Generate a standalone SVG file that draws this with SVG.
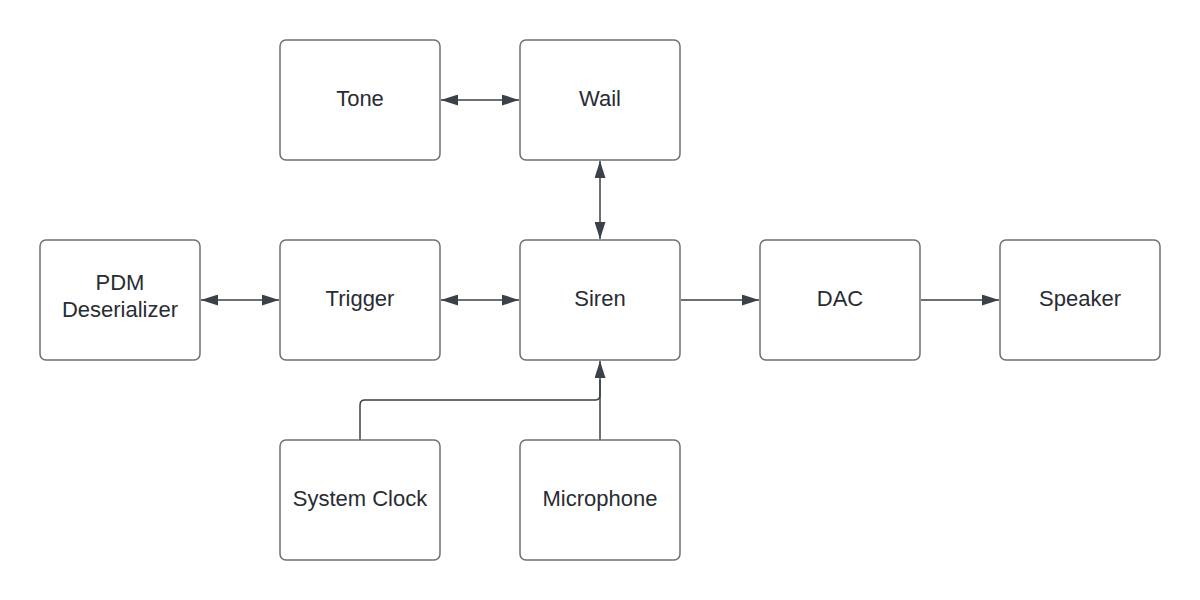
<svg xmlns="http://www.w3.org/2000/svg" width="1200" height="600" viewBox="0 0 1200 600">
<defs>
<style>
.box{fill:#ffffff;stroke:#6b6f75;stroke-width:1.5}
.lbl{font-family:"Liberation Sans",Arial,sans-serif;font-size:22px;fill:#282c33;text-anchor:middle}
.con{fill:none;stroke:#3a414a;stroke-width:1.5}
</style>
<marker id="ah" viewBox="0 0 17 11" refX="17" refY="5.5" markerWidth="17" markerHeight="11" markerUnits="userSpaceOnUse" orient="auto-start-reverse">
<path d="M0,0 L17,5.5 L0,11 Z" fill="#3a414a"/>
</marker>
</defs>
<rect width="1200" height="600" fill="#ffffff"/>
<g id="connectors">
<path class="con" d="M441,100 H519" marker-start="url(#ah)" marker-end="url(#ah)"/>
<path class="con" d="M600,161 V239" marker-start="url(#ah)" marker-end="url(#ah)"/>
<path class="con" d="M201,300 H279" marker-start="url(#ah)" marker-end="url(#ah)"/>
<path class="con" d="M441,300 H519" marker-start="url(#ah)" marker-end="url(#ah)"/>
<path class="con" d="M681,300 H759" marker-end="url(#ah)"/>
<path class="con" d="M921,300 H999" marker-end="url(#ah)"/>
<path class="con" d="M600,440 V361" marker-end="url(#ah)"/>
<path class="con" d="M360,440 V405 Q360,400 365,400 H595 Q600,400 600,395 V380"/>
</g>
<g id="tone"><rect class="box" x="280" y="40" width="160" height="120" rx="6"/><text class="lbl" x="360" y="106">Tone</text></g>
<g id="wail"><rect class="box" x="520" y="40" width="160" height="120" rx="6"/><text class="lbl" x="600" y="106">Wail</text></g>
<g id="pdm"><rect class="box" x="40" y="240" width="160" height="120" rx="6"/><text class="lbl" x="120" y="290">PDM</text><text class="lbl" x="120" y="317">Deserializer</text></g>
<g id="trigger"><rect class="box" x="280" y="240" width="160" height="120" rx="6"/><text class="lbl" x="360" y="306">Trigger</text></g>
<g id="siren"><rect class="box" x="520" y="240" width="160" height="120" rx="6"/><text class="lbl" x="600" y="306">Siren</text></g>
<g id="dac"><rect class="box" x="760" y="240" width="160" height="120" rx="6"/><text class="lbl" x="840" y="306">DAC</text></g>
<g id="speaker"><rect class="box" x="1000" y="240" width="160" height="120" rx="6"/><text class="lbl" x="1080" y="306">Speaker</text></g>
<g id="clock"><rect class="box" x="280" y="440" width="160" height="120" rx="6"/><text class="lbl" x="360" y="506">System Clock</text></g>
<g id="mic"><rect class="box" x="520" y="440" width="160" height="120" rx="6"/><text class="lbl" x="600" y="506">Microphone</text></g>
</svg>
